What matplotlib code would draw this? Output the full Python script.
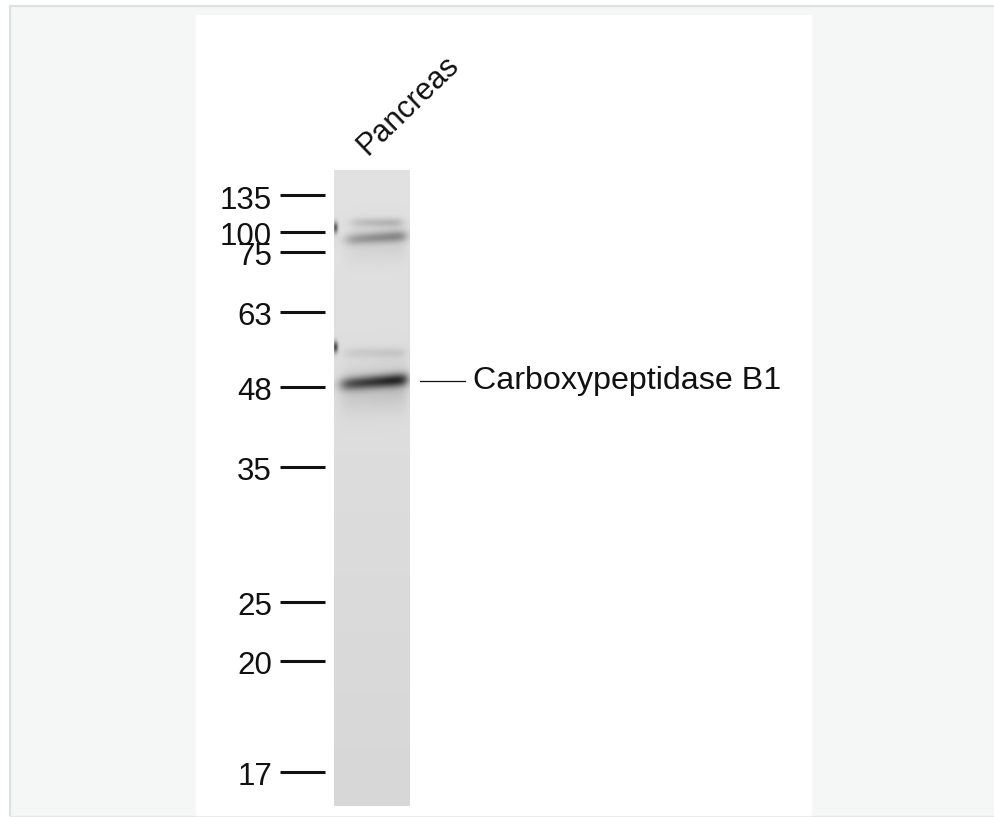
import numpy as np
import matplotlib
matplotlib.use("Agg")
import matplotlib.pyplot as plt
from matplotlib.patches import Rectangle
from matplotlib.lines import Line2D

# ---------------- data ----------------
lane_labels = ["Pancreas"]
marker_kda = [135, 100, 75, 63, 48, 35, 25, 20, 17]
# relative migration (Rf, 0 = top of lane, 1 = bottom of lane)
marker_rf = [0.040, 0.098, 0.129, 0.223, 0.341, 0.467, 0.679, 0.772, 0.947]

band_rf = [0.082, 0.106, 0.287, 0.333]
band_intensity = [0.16, 0.32, 0.09, 0.70]
spot_rf = [0.090, 0.278]
spot_intensity = [0.55, 0.65]

target_label = "Carboxypeptidase B1"
target_rf = 0.332

# ---------------- figure ----------------
W, H = 995, 817
fig = plt.figure(figsize=(9.95, 8.17), dpi=100)
bg = fig.add_axes([0, 0, 1, 1])
bg.set_xlim(0, W)
bg.set_ylim(H, 0)
bg.axis("off")
bg.add_patch(Rectangle((0, 0), W, H, color="white", zorder=0))
bg.add_patch(Rectangle((10, 6), W - 10, H - 8, color="#f5f6f6", zorder=1))
bg.add_line(Line2D([10, W], [6, 6], color="#dfe1e1", lw=1.6, zorder=2))
bg.add_line(Line2D([10, 10], [6, H - 2], color="#dfe1e1", lw=1.6, zorder=2))
bg.add_line(Line2D([10, W], [H - 1.5, H - 1.5], color="#e6e8e8", lw=1.0, zorder=2))
bg.add_patch(Rectangle((196, 15), 615, H - 17, color="white", zorder=3))

font = "Liberation Sans"

# lane axes (y = Rf)
lane_top, lane_bot = 170, 806
lane_x0, lane_x1 = 334, 410
ax = fig.add_axes([0, 1 - lane_bot / H, 1, (lane_bot - lane_top) / H])
ax.set_xlim(0, W)
ax.set_ylim(1, 0)
ax.axis("off")
ax.patch.set_alpha(0)

ny, nx = 636, 76
rf = np.linspace(0, 1, ny)[:, None]
xx = np.linspace(lane_x0, lane_x1, nx)[None, :]
img = 0.882 - 0.042 * rf + 0 * xx

band_x = [(352, 402), (346, 406), (345, 405), (341, 407)]
band_sig = [0.0070, 0.0090, 0.008, 0.0105]
band_tilt = [0.0, -0.0001, 0.0, -0.00012]
dark = np.zeros_like(img)
for c, inten, (xa, xb), s, t in zip(band_rf, band_intensity, band_x, band_sig, band_tilt):
    env = 1 / (1 + np.exp(-(xx - xa) / 3.5)) * 1 / (1 + np.exp((xx - xb) / 3.0))
    ramp = 0.75 + 0.35 * (xx - xa) / (xb - xa)
    cc = c + t * (xx - (xa + xb) / 2)
    core = np.exp(-((rf - cc) / s) ** 2)
    halo = 0.18 * np.exp(-((rf - cc - 0.012) / (3.2 * s)) ** 2)
    dark += inten * env * np.clip(ramp, 0.6, 1.1) * (core + halo)
for c, inten in zip(spot_rf, spot_intensity):
    dark += inten * np.exp(-((rf - c) / 0.009) ** 2) * np.exp(-((xx - lane_x0 - 1) / 2.6) ** 2)
img = img * (1 - np.clip(dark, 0, 0.95))
ax.imshow(img, extent=(lane_x0, lane_x1, 1, 0), aspect="auto", cmap="gray",
          vmin=0, vmax=1, interpolation="bilinear", zorder=4)

for kda, r in zip(marker_kda, marker_rf):
    ax.add_line(Line2D([280, 325], [r, r], color="#111111", lw=2.2,
                       solid_capstyle="butt", zorder=5))
    ax.text(272, r + 0.008, str(kda), ha="right", va="center", fontsize=22.5,
            family=font, color="#111111", zorder=5)

ax.add_line(Line2D([420, 465], [target_rf, target_rf], color="#111111", lw=0.9, zorder=5))
ax.text(473, target_rf, target_label, ha="left", va="center", fontsize=23.2,
        family=font, color="#111111", zorder=5)

lane_center = (lane_x0 + lane_x1) / 2
for i, lab in enumerate(lane_labels):
    bg.text(lane_center - 5, 156, lab, rotation=44, rotation_mode="anchor",
            ha="left", va="baseline", fontsize=22, family=font, color="#111111", zorder=5)

fig.savefig("out.png", dpi=100)
